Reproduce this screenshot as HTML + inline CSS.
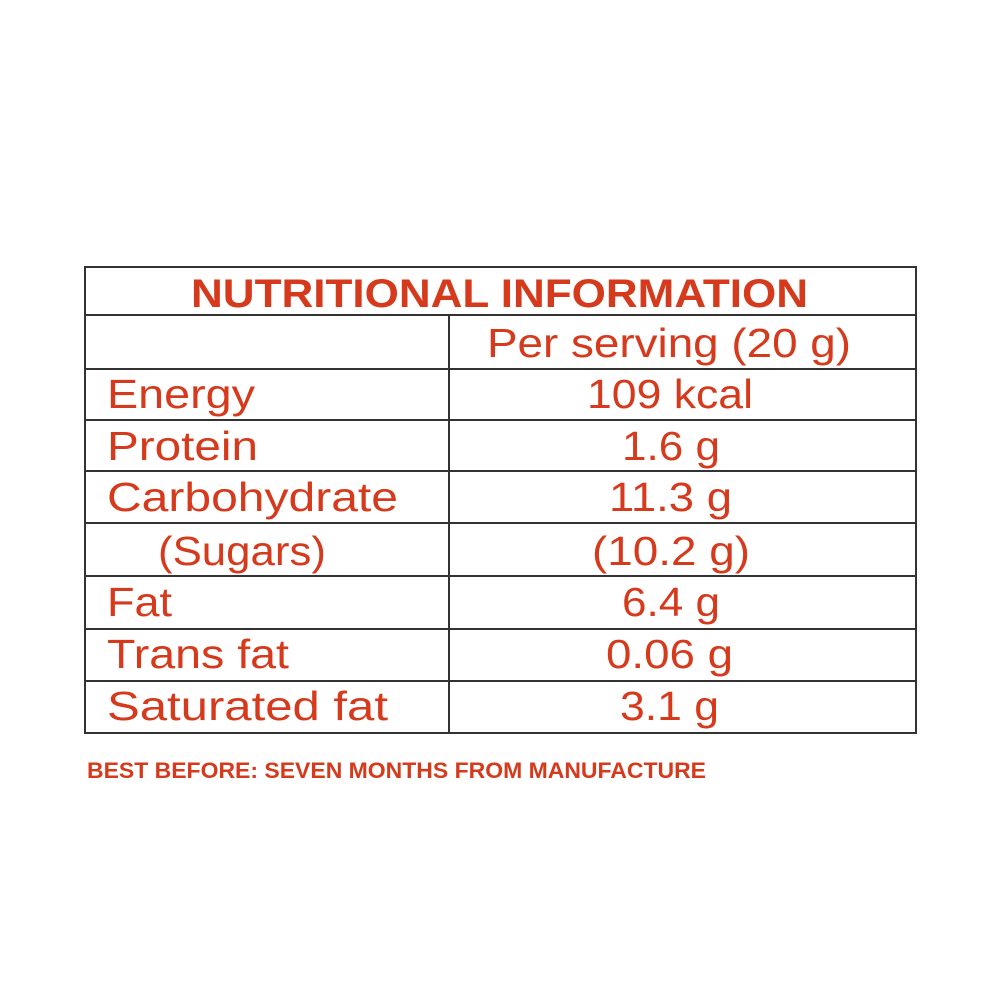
<!DOCTYPE html>
<html><head><style>html,body{margin:0;padding:0;background:#fff;}</style></head>
<body>
<svg width="1000" height="1000" xmlns="http://www.w3.org/2000/svg" style="display:block">
<rect width="1000" height="1000" fill="#fff"/>
<g stroke="#333" stroke-width="2" fill="none">
<rect x="85" y="267" width="831" height="466"/>
<line x1="85" y1="315" x2="916" y2="315"/>
<line x1="85" y1="369" x2="916" y2="369"/>
<line x1="85" y1="420" x2="916" y2="420"/>
<line x1="85" y1="471" x2="916" y2="471"/>
<line x1="85" y1="523" x2="916" y2="523"/>
<line x1="85" y1="576" x2="916" y2="576"/>
<line x1="85" y1="629" x2="916" y2="629"/>
<line x1="85" y1="681" x2="916" y2="681"/>
<line x1="449" y1="315" x2="449" y2="733"/>
</g>
<g fill="#d63a1c" font-family="Liberation Sans, sans-serif" font-size="41">
<text x="191" y="307" font-size="40" font-weight="bold" textLength="617" lengthAdjust="spacingAndGlyphs">NUTRITIONAL INFORMATION</text>
<text x="487" y="357" textLength="364" lengthAdjust="spacingAndGlyphs">Per serving (20 g)</text>
<text x="107" y="408" textLength="148" lengthAdjust="spacingAndGlyphs">Energy</text>
<text x="587" y="408" textLength="166" lengthAdjust="spacingAndGlyphs">109 kcal</text>
<text x="107" y="460" textLength="151" lengthAdjust="spacingAndGlyphs">Protein</text>
<text x="622" y="460" textLength="98" lengthAdjust="spacingAndGlyphs">1.6 g</text>
<text x="107" y="511" textLength="291" lengthAdjust="spacingAndGlyphs">Carbohydrate</text>
<text x="609" y="511" textLength="123" lengthAdjust="spacingAndGlyphs">11.3 g</text>
<text x="158" y="565" textLength="168" lengthAdjust="spacingAndGlyphs">(Sugars)</text>
<text x="592" y="565" textLength="158" lengthAdjust="spacingAndGlyphs">(10.2 g)</text>
<text x="107" y="616" textLength="65" lengthAdjust="spacingAndGlyphs">Fat</text>
<text x="622" y="616" textLength="98" lengthAdjust="spacingAndGlyphs">6.4 g</text>
<text x="107" y="668" textLength="182" lengthAdjust="spacingAndGlyphs">Trans fat</text>
<text x="606" y="668" textLength="127" lengthAdjust="spacingAndGlyphs">0.06 g</text>
<text x="107" y="720" textLength="281" lengthAdjust="spacingAndGlyphs">Saturated fat</text>
<text x="620" y="720" textLength="99" lengthAdjust="spacingAndGlyphs">3.1 g</text>
<text x="87" y="778" font-size="22" font-weight="bold" textLength="619" lengthAdjust="spacingAndGlyphs">BEST BEFORE: SEVEN MONTHS FROM MANUFACTURE</text>
</g>
</svg>
</body></html>
